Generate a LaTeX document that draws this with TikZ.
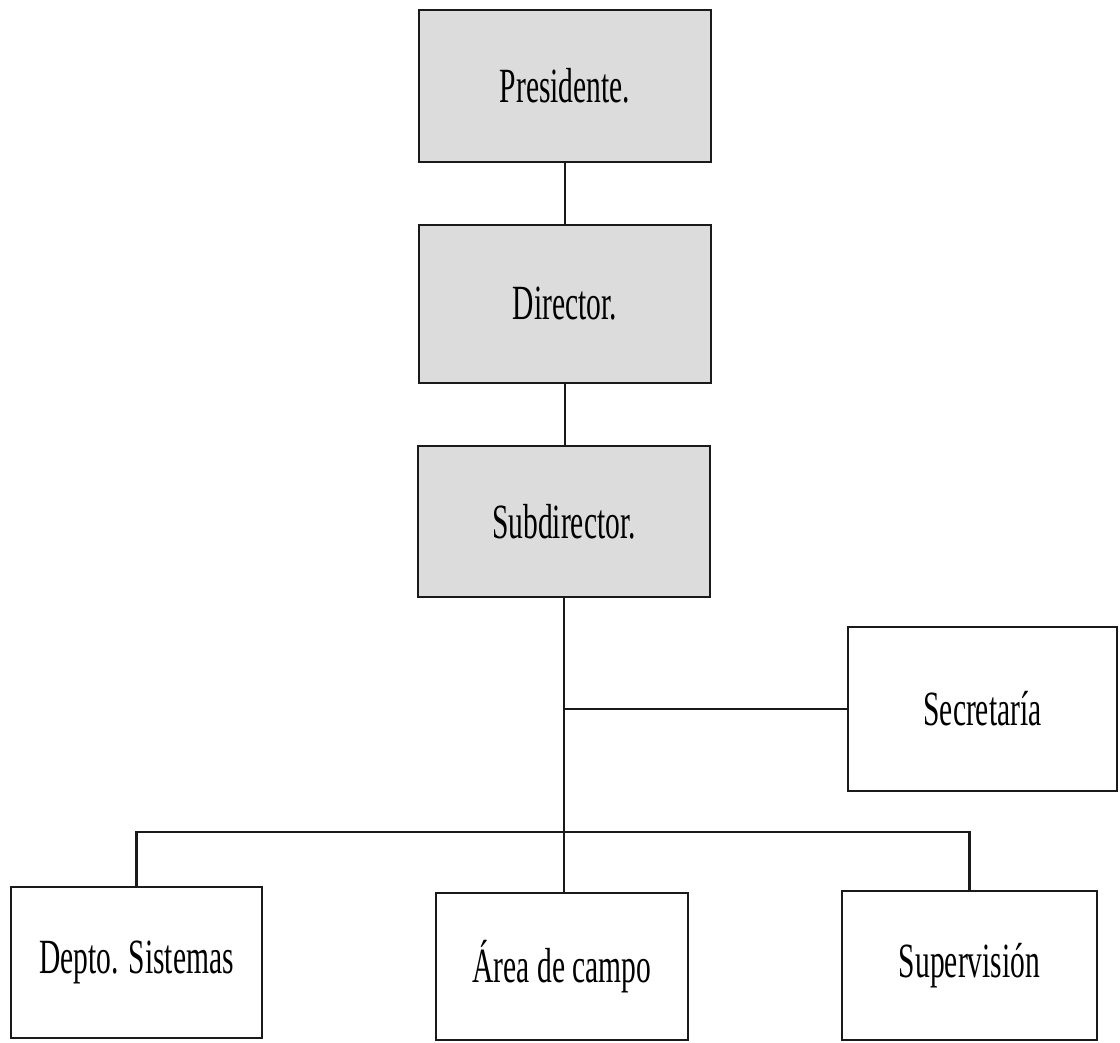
\documentclass[tikz,border=0pt]{standalone}
\usepackage{fontspec}
\usepackage{tikz}
\usetikzlibrary{positioning, calc}
\newfontfamily\orgfont[FakeStretch=0.6]{Liberation Serif}
\definecolor{orgGray}{HTML}{DCDCDC}
\definecolor{orgLine}{HTML}{1A1A1A}

\begin{document}
\begin{tikzpicture}[x=0.025cm, y=-0.025cm,
  font=\orgfont\fontsize{35}{40}\selectfont,
  mando/.style={draw=orgLine, fill=orgGray, line width=1.5pt, minimum width=7.3cm, align=center, inner sep=0pt},
  area/.style={draw=orgLine, fill=white, line width=1.5pt, align=center, inner sep=0pt},
  link/.style={orgLine, line width=1.5pt}]
\useasboundingbox (0,0) rectangle (1120,1042);
\node[mando, minimum height=3.8cm]  (pres) at (565,86)  {Presidente.};
\node[mando, minimum height=3.95cm] (dir)  at (565,304) {Director.};
\node[mando, minimum height=3.78cm] (sub)  at (564,521.5) {Subdirector.};
\node[area, minimum width=6.72cm, minimum height=4.1cm]  (sec)  at (982.5,709) {Secretaría};
\node[area, minimum width=6.28cm, minimum height=3.78cm] (sis)  at (136.5,962.5) {Depto. Sistemas};
\node[area, minimum width=6.32cm, minimum height=3.68cm] (camp) at (562,966.5) {Área de campo};
\node[area, minimum width=6.38cm, minimum height=3.72cm] (sup)  at (969.5,965.5) {Supervisión};
\coordinate (bus) at (sub.south |- 0,832);
\draw[link] (pres) -- (dir);
\draw[link] (dir.south) -- (dir.south |- sub.north);
\draw[link] (sub.south) -- (sub.south |- camp.north);
\draw[link] (sub.south |- sec.west) -- (sec.west);
\draw[link] (sis.north) |- (bus) -| (sup.north);
\end{tikzpicture}
\end{document}
